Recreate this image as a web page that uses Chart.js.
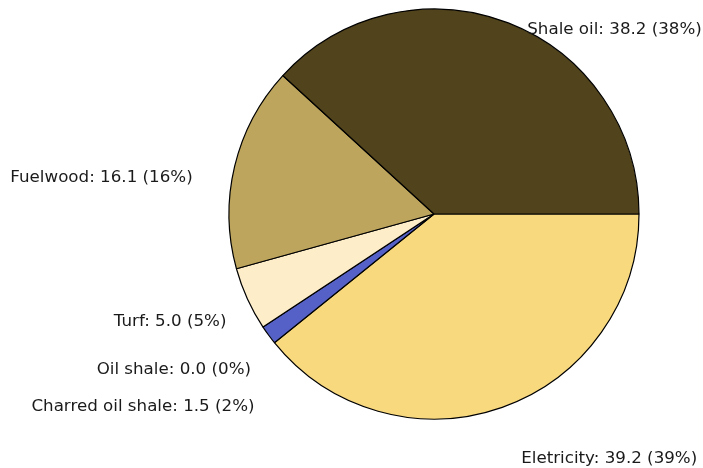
<!DOCTYPE html>
<html>
<head>
<meta charset="utf-8">
<script src="https://cdn.jsdelivr.net/npm/chart.js@4/dist/chart.umd.min.js"></script>
<style>
  html, body { margin: 0; padding: 0; background: #ffffff; }
  #wrap { width: 703px; height: 468px; }
</style>
</head>
<body>
<div id="wrap"><canvas id="c" width="703" height="468"></canvas></div>
<script>
// Energy sources, in drawing order (clockwise from 3 o'clock)
const categories = ["Eletricity", "Charred oil shale", "Oil shale", "Turf", "Fuelwood", "Shale oil"];
const values = [39.2, 1.5, 0.0, 5.0, 16.1, 38.2];
const colors = ["#f9d97e", "#5561c6", "#7a7a7a", "#fdedc9", "#bda55d", "#51431c"];

// Label nudges from the slice's outer edge (px), per slice
const labelNudge = [[19, 51], [-14, 72], [-12, 43], [-21, 23], [-42, 12], [19, 7]];

const total = values.reduce((a, b) => a + b, 0);

const outsideLabels = {
  id: 'outsideLabels',
  afterDatasetsDraw(chart) {
    const ctx = chart.ctx;
    const meta = chart.getDatasetMeta(0);
    ctx.save();
    ctx.font = '16.7px "DejaVu Sans", Verdana, sans-serif';
    ctx.fillStyle = '#1a1a1a';
    ctx.textBaseline = 'middle';
    meta.data.forEach((arc, i) => {
      const p = arc.getProps(['x', 'y', 'startAngle', 'endAngle', 'outerRadius'], true);
      const mid = (p.startAngle + p.endAngle) / 2;
      const ex = p.x + Math.cos(mid) * p.outerRadius;
      const ey = p.y + Math.sin(mid) * p.outerRadius;
      const right = Math.cos(mid) >= 0;
      const x = ex + labelNudge[i][0];
      const y = ey + labelNudge[i][1];
      const pct = Math.round(values[i] / total * 100);
      const text = categories[i] + ': ' + values[i].toFixed(1) + ' (' + pct + '%)';
      ctx.textAlign = right ? 'left' : 'right';
      ctx.fillText(text, x, y);
    });
    ctx.restore();
  }
};

new Chart(document.getElementById('c'), {
  type: 'pie',
  data: {
    labels: categories,
    datasets: [{
      data: values,
      backgroundColor: colors,
      borderColor: '#000000',
      borderWidth: 1.2,
      borderAlign: 'center'
    }]
  },
  options: {
    responsive: false,
    animation: false,
    rotation: 90,
    radius: 205,
    layout: { padding: { left: 165, right: 0, top: 0, bottom: 40 } },
    plugins: {
      legend: { display: false },
      tooltip: { enabled: false }
    }
  },
  plugins: [outsideLabels]
});
</script>
</body>
</html>
